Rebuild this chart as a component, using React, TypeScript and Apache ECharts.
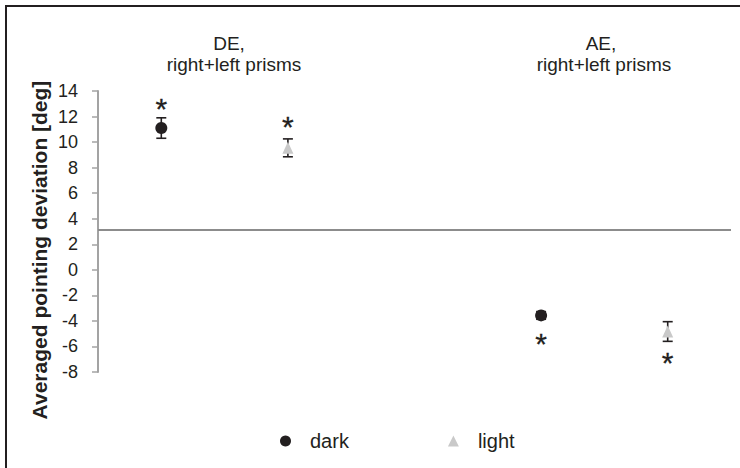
import React, { useEffect, useRef } from "react";
import * as echarts from "echarts";

const groupTitles = ["DE,", "AE,"];
const groupSubtitles = ["right+left prisms", "right+left prisms"];
const seriesNames = ["dark", "light"];
const xPositions = [1, 3, 7, 9];
const darkMeans = [11.1, -3.57];
const darkErrors = [0.8, 0.3];
const lightMeans = [9.55, -4.83];
const lightErrors = [0.7, 0.77];
const asteriskY = [12.63, 11.22, -5.77, -7.26];
const referenceLineY = 3.1;
const yTicks = { min: -8, max: 14, interval: 2 };

const FONT = "'Liberation Sans', Arial, Helvetica, sans-serif";
const INK = "#231f20";
const LIGHT = "#c9c9c9";

export default function App() {
  const ref = useRef<HTMLDivElement>(null);
  useEffect(() => {
    if (!ref.current) return;
    const chart = echarts.init(ref.current, undefined, { renderer: "svg" });
    const darkData = darkMeans.map((m, i) => [xPositions[i * 2], m]);
    const lightData = lightMeans.map((m, i) => [xPositions[i * 2 + 1], m]);
    const errData = [
      ...darkMeans.map((m, i) => [xPositions[i * 2], m - darkErrors[i], m + darkErrors[i]]),
      ...lightMeans.map((m, i) => [xPositions[i * 2 + 1], m - lightErrors[i], m + lightErrors[i]]),
    ];
    const starData = xPositions.map((x, i) => [x, asteriskY[i]]);
    const renderErr = (params: any, api: any) => {
      const x = api.value(0);
      const lo = api.coord([x, api.value(1)]);
      const hi = api.coord([x, api.value(2)]);
      const w = 5;
      const st = { stroke: INK, lineWidth: 1.6 };
      return {
        type: "group",
        children: [
          { type: "line", shape: { x1: lo[0], y1: lo[1], x2: hi[0], y2: hi[1] }, style: st },
          { type: "line", shape: { x1: lo[0] - w, y1: lo[1], x2: lo[0] + w, y2: lo[1] }, style: st },
          { type: "line", shape: { x1: hi[0] - w, y1: hi[1], x2: hi[0] + w, y2: hi[1] }, style: st },
        ],
      };
    };
    const txt = (text: string, x: number, y: number) => ({
      type: "text",
      x,
      y,
      style: { text, font: `19px ${FONT}`, fill: INK, align: "center", verticalAlign: "middle" },
    });
    chart.setOption({
      animation: false,
      textStyle: { fontFamily: FONT },
      grid: { left: 98, right: 9, top: 91, bottom: 96 },
      xAxis: { type: "value", min: 0, max: 10, show: false },
      yAxis: {
        type: "value",
        min: yTicks.min,
        max: yTicks.max,
        interval: yTicks.interval,
        axisLine: { show: true, lineStyle: { color: "#a3a3a3", width: 2 } },
        axisTick: { show: true, length: 6, lineStyle: { color: "#a3a3a3", width: 1.5 } },
        axisLabel: { margin: 20, fontSize: 18, color: INK, fontFamily: FONT },
        splitLine: { show: false },
      },
      legend: {
        left: 275,
        top: 426,
        itemGap: 99,
        itemWidth: 11,
        itemHeight: 11,
        textStyle: { fontSize: 20, color: INK, fontFamily: FONT, padding: [0, 0, 0, 14] },
        data: [
          { name: seriesNames[0], icon: "circle", itemStyle: { color: INK, opacity: 1 } },
          { name: seriesNames[1], icon: "triangle", itemStyle: { color: LIGHT, opacity: 1 } },
        ],
      },
      graphic: [
        {
          type: "rect",
          shape: { x: 6, y: 6, width: 800, height: 600 },
          style: { fill: "none", stroke: INK, lineWidth: 2 },
          silent: true,
        },
        txt(groupTitles[0], 229, 43),
        txt(groupSubtitles[0], 234, 64),
        txt(groupTitles[1], 601, 43),
        txt(groupSubtitles[1], 604, 64),
        {
          type: "text",
          x: 39,
          y: 250,
          rotation: Math.PI / 2,
          style: {
            text: "Averaged pointing deviation [deg]",
            font: `bold 21px ${FONT}`,
            fill: INK,
            align: "center",
            verticalAlign: "middle",
          },
        },
      ],
      series: [
        {
          type: "custom",
          renderItem: renderErr,
          data: errData,
          z: 3,
          silent: true,
          markLine: {
            silent: true,
            symbol: "none",
            label: { show: false },
            lineStyle: { color: "#8c8c8c", width: 2, type: "solid" },
            data: [{ yAxis: referenceLineY }],
          },
        },
        {
          name: seriesNames[0],
          type: "scatter",
          symbol: "circle",
          symbolSize: 12,
          itemStyle: { color: INK, opacity: 1 },
          data: darkData,
          z: 4,
        },
        {
          name: seriesNames[1],
          type: "scatter",
          symbol: "triangle",
          symbolSize: [11, 12],
          itemStyle: { color: LIGHT, opacity: 1 },
          data: lightData,
          z: 4,
        },
        {
          type: "scatter",
          symbolSize: 1,
          itemStyle: { color: "transparent" },
          silent: true,
          label: {
            show: true,
            position: "inside",
            formatter: "*",
            fontSize: 30,
            color: INK,
            opacity: 1,
            textBorderColor: INK,
            textBorderWidth: 0.3,
            fontFamily: FONT,
          },
          data: starData,
          z: 5,
        },
      ],
    });
    return () => chart.dispose();
  }, []);
  return (
    <div
      ref={ref}
      style={{ position: "fixed", left: 0, top: 0, width: 740, height: 468, background: "#fff" }}
    />
  );
}
